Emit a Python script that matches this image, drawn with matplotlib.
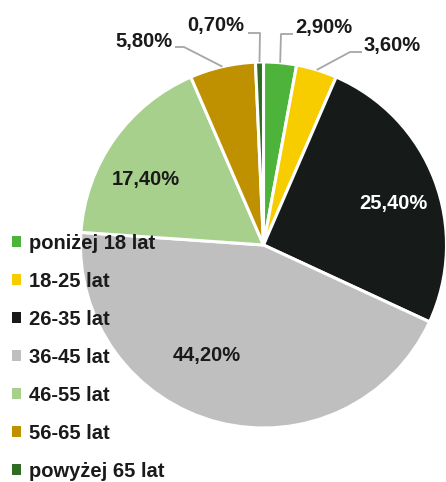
import matplotlib
matplotlib.use("Agg")
import matplotlib.pyplot as plt
from matplotlib.patches import Patch
import numpy as np

categories = ["poniżej 18 lat", "18-25 lat", "26-35 lat", "36-45 lat",
              "46-55 lat", "56-65 lat", "powyżej 65 lat"]
values = [2.9, 3.6, 25.4, 44.2, 17.4, 5.8, 0.7]
labels = ["2,90%", "3,60%", "25,40%", "44,20%", "17,40%", "5,80%", "0,70%"]
colors = ["#4db33b", "#f8cd00", "#161b1a", "#bfbfbf", "#a8d08d", "#bf9000", "#2f6d25"]

FAM = ['Liberation Sans', 'DejaVu Sans']
plt.rcParams['font.family'] = FAM

W, H = 446, 482
fig = plt.figure(figsize=(W / 100, H / 100), dpi=100)
cx, cy, r = 263.5, 245, 183
ax = fig.add_axes([(cx - r) / W, (H - cy - r) / H, 2 * r / W, 2 * r / H])

wedges, _ = ax.pie(values, colors=colors, startangle=90, counterclock=False,
                   radius=1.0, wedgeprops=dict(edgecolor='white', linewidth=2.2))
for w in wedges:
    w.set_clip_on(False)
ax.set_xlim(-1, 1)
ax.set_ylim(-1, 1)
ax.set_aspect('equal')
ax.axis('off')

def px(x, y):
    return ((x - cx) / r, (cy - y) / r)

FS = 14.5
# inside labels
inside = {2: (px(393, 204), 'white'), 3: (px(207, 355), '#1a1a1a'), 4: (px(146, 179), '#1a1a1a')}
for i, (pos, col) in inside.items():
    ax.text(pos[0], pos[1], labels[i], ha='center', va='center', fontsize=FS,
            fontweight='bold', color=col)

# outside labels with leader lines: (index, elbow px, end px, text px, ha)
outside = [
    (0, (281, 34), (293, 34), (295, 28), 'left'),
    (1, (350, 52), (362, 52), (363, 45), 'left'),
    (6, (260, 33), (248, 33), (244, 26), 'right'),
    (5, (184, 47), (175, 47), (173, 41), 'right'),
]
cum = np.cumsum([0] + values)
for i, elb, end, tpos, ha in outside:
    mid = 90 - (cum[i] + values[i] / 2) * 3.6
    a = np.deg2rad(mid)
    p0 = (np.cos(a), np.sin(a))
    e = px(*elb)
    f = px(*end)
    ax.plot([p0[0], e[0], f[0]], [p0[1], e[1], f[1]], color='#a6a6a6', lw=1.3,
            clip_on=False, solid_capstyle='butt')
    t = px(*tpos)
    ax.text(t[0], t[1], labels[i], ha=ha, va='center', fontsize=FS,
            fontweight='bold', color='#1a1a1a', clip_on=False)

handles = [Patch(facecolor=c, edgecolor='none') for c in colors]
leg = fig.legend(handles, categories, loc='upper left',
                 bbox_to_anchor=(12 / W, 1 - 234 / H), frameon=False,
                 prop=dict(family=FAM, weight='bold', size=FS),
                 handlelength=0.45, handleheight=0.45, handletextpad=0.4,
                 labelspacing=0.94, borderpad=0.0, borderaxespad=0.0)
for t in leg.get_texts():
    t.set_color('#1a1a1a')

fig.savefig("out.png", dpi=100)
